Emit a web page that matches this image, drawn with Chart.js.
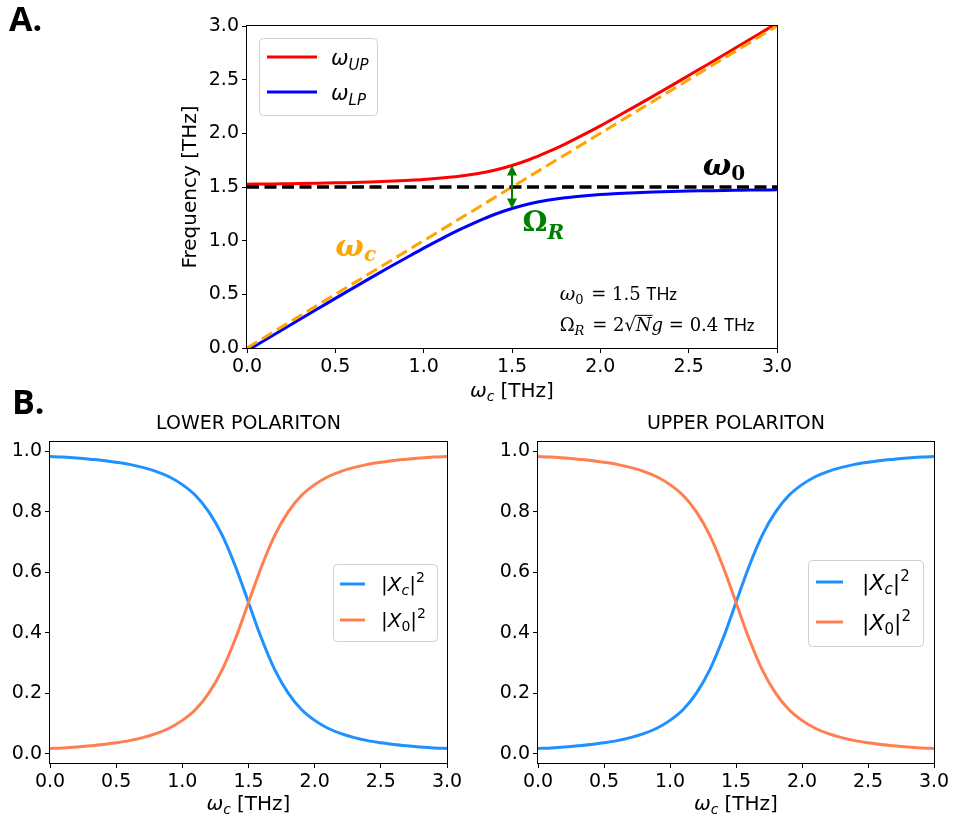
<!DOCTYPE html>
<html>
<head>
<meta charset="utf-8">
<script src="https://cdn.jsdelivr.net/npm/chart.js@4.4.1/dist/chart.umd.min.js"></script>
<style>
  body { margin: 0; background: #fff; width: 954px; height: 822px; position: relative; overflow: hidden; }
  canvas { position: absolute; }
</style>
</head>
<body>
<canvas id="dispersion" width="954" height="410" style="left:0;top:0"></canvas>
<canvas id="lower" width="477" height="437" style="left:0;top:385px"></canvas>
<canvas id="upper" width="477" height="437" style="left:477px;top:385px"></canvas>
<script>
// cavity frequency grid (THz)
const wc = [0.0, 0.1, 0.2, 0.3, 0.4, 0.5, 0.6, 0.7, 0.8, 0.9, 1.0, 1.1, 1.2, 1.3, 1.4, 1.5,
            1.6, 1.7, 1.8, 1.9, 2.0, 2.1, 2.2, 2.3, 2.4, 2.5, 2.6, 2.7, 2.8, 2.9, 3.0];

// polariton branches (THz)
const upperBranch = [1.526, 1.528, 1.530, 1.532, 1.535, 1.539, 1.542, 1.547, 1.553, 1.561, 1.570,
                     1.583, 1.600, 1.624, 1.656, 1.700, 1.756, 1.824, 1.900, 1.983, 2.070,
                     2.161, 2.253, 2.347, 2.442, 2.539, 2.635, 2.732, 2.830, 2.928, 3.026];
const lowerBranch = [-0.026, 0.072, 0.170, 0.268, 0.365, 0.462, 0.558, 0.653, 0.747, 0.839, 0.930,
                     1.017, 1.100, 1.176, 1.244, 1.300, 1.344, 1.376, 1.400, 1.417, 1.430,
                     1.439, 1.447, 1.453, 1.458, 1.462, 1.465, 1.468, 1.470, 1.472, 1.474];

// bare cavity and bare mode
const cavityX = [0, 3];
const cavityY = [0, 3];
const modeX = [0, 3];
const modeY = [1.5, 1.5];

// Hopfield weights
const lpPhoton = [0.983, 0.981, 0.978, 0.974, 0.970, 0.964, 0.957, 0.947, 0.934, 0.916, 0.890,
                  0.854, 0.800, 0.724, 0.621, 0.500, 0.379, 0.276, 0.200, 0.146, 0.110,
                  0.084, 0.066, 0.053, 0.043, 0.036, 0.030, 0.026, 0.022, 0.019, 0.017];
const lpMatter = [0.017, 0.019, 0.022, 0.026, 0.030, 0.036, 0.043, 0.053, 0.066, 0.084, 0.110,
                  0.146, 0.200, 0.276, 0.379, 0.500, 0.621, 0.724, 0.800, 0.854, 0.890,
                  0.916, 0.934, 0.947, 0.957, 0.964, 0.970, 0.974, 0.978, 0.981, 0.983];
const upPhoton = [0.017, 0.019, 0.022, 0.026, 0.030, 0.036, 0.043, 0.053, 0.066, 0.084, 0.110,
                  0.146, 0.200, 0.276, 0.379, 0.500, 0.621, 0.724, 0.800, 0.854, 0.890,
                  0.916, 0.934, 0.947, 0.957, 0.964, 0.970, 0.974, 0.978, 0.981, 0.983];
const upMatter = [0.983, 0.981, 0.978, 0.974, 0.970, 0.964, 0.957, 0.947, 0.934, 0.916, 0.890,
                  0.854, 0.800, 0.724, 0.621, 0.500, 0.379, 0.276, 0.200, 0.146, 0.110,
                  0.084, 0.066, 0.053, 0.043, 0.036, 0.030, 0.026, 0.022, 0.019, 0.017];

// Rabi splitting arrow
const rabiX = 1.5;
const rabiLow = 1.3;
const rabiHigh = 1.7;

// tick labels
const freqTicks = [0.0, 0.5, 1.0, 1.5, 2.0, 2.5, 3.0];
const weightTicks = [0.0, 0.2, 0.4, 0.6, 0.8, 1.0];

const Y_AXIS_W = 50;
const X_AXIS_H = 40;
const SANS = '"DejaVu Sans"';
const SERIF = '"DejaVu Serif"';

function toPoints(xs, ys) {
    return xs.map((x, i) => ({ x, y: ys[i] }));
}

// draw a row of text pieces (sub/superscripts via dy)
function drawRuns(ctx, x, y, runs, align = 'left') {
    let width = 0;
    runs.forEach((r) => {
        ctx.font = r.font;
        r.w = ctx.measureText(r.text).width;
        width += r.w + (r.gap || 0);
    });
    let cx = align === 'center' ? x - width / 2 : x;
    ctx.textAlign = 'left';
    ctx.textBaseline = 'alphabetic';
    runs.forEach((r) => {
        ctx.font = r.font;
        ctx.fillText(r.text, cx, y + (r.dy || 0));
        if (r.over) {
            ctx.save();
            ctx.strokeStyle = ctx.fillStyle;
            ctx.lineWidth = 1;
            ctx.beginPath();
            ctx.moveTo(cx - 1, y - r.over);
            ctx.lineTo(cx + r.w + 1, y - r.over);
            ctx.stroke();
            ctx.restore();
        }
        cx += r.w + (r.gap || 0);
    });
}

function drawLegend(ctx, box, rows, size) {
    ctx.save();
    ctx.fillStyle = 'rgba(255,255,255,0.8)';
    ctx.strokeStyle = '#d0d0d0';
    ctx.lineWidth = 1;
    ctx.beginPath();
    ctx.roundRect(box.x + 0.5, box.y + 0.5, box.w, box.h, 4);
    ctx.fill();
    ctx.stroke();
    rows.forEach((row, i) => {
        const ly = box.y + box.first + i * box.gap;
        ctx.strokeStyle = row.color;
        ctx.lineWidth = 3;
        ctx.beginPath();
        ctx.moveTo(box.x + box.lineL, ly);
        ctx.lineTo(box.x + box.lineL + box.lineW, ly);
        ctx.stroke();
        ctx.fillStyle = '#000';
        drawRuns(ctx, box.x + box.textL, ly + size * 0.36, row.runs);
    });
    ctx.restore();
}

// full axes frame, drawn above the curves
const frameBox = {
    id: 'frameBox',
    afterDatasetsDraw(chart) {
        const { ctx, chartArea: a } = chart;
        ctx.save();
        ctx.strokeStyle = '#000';
        ctx.lineWidth = 1;
        ctx.strokeRect(Math.round(a.left) - 0.5, Math.round(a.top) - 0.5,
            Math.round(a.right - a.left) + 1, Math.round(a.bottom - a.top) + 1);
        ctx.restore();
    }
};

function axisOptions(canvasId, area, yMin, yMax, yTicks) {
    const cv = document.getElementById(canvasId);
    const tickFont = { family: 'DejaVu Sans', size: 19 };
    const tickCommon = {
        autoSkip: false,
        maxRotation: 0,
        color: '#000',
        font: tickFont,
        padding: 3,
        callback: (v) => Number(v).toFixed(1)
    };
    const gridCommon = { drawOnChartArea: false, color: '#000', tickLength: 5, tickWidth: 1 };
    return {
        responsive: false,
        animation: false,
        layout: {
            padding: {
                left: area.left - Y_AXIS_W,
                top: area.top,
                right: cv.width - area.right,
                bottom: cv.height - area.bottom - X_AXIS_H
            }
        },
        plugins: { legend: { display: false }, tooltip: { enabled: false } },
        elements: {
            point: { radius: 0, hoverRadius: 0 },
            line: { cubicInterpolationMode: 'monotone', borderCapStyle: 'butt', fill: false }
        },
        scales: {
            x: {
                type: 'linear',
                min: 0,
                max: 3,
                afterFit(s) { s.height = X_AXIS_H; },
                afterBuildTicks(s) { s.ticks = freqTicks.map((v) => ({ value: v })); },
                ticks: tickCommon,
                grid: gridCommon,
                border: { display: false }
            },
            y: {
                type: 'linear',
                min: yMin,
                max: yMax,
                afterFit(s) { s.width = Y_AXIS_W; },
                afterBuildTicks(s) { s.ticks = yTicks.map((v) => ({ value: v })); },
                ticks: tickCommon,
                grid: gridCommon,
                border: { display: false }
            }
        }
    };
}

function xLabel(ctx, cx, baseline) {
    ctx.fillStyle = '#000';
    drawRuns(ctx, cx, baseline, [
        { text: 'ω', font: `italic 20px ${SANS}` },
        { text: 'c', font: `italic 14px ${SANS}`, dy: 4, gap: 6 },
        { text: '[THz]', font: `20px ${SANS}` }
    ], 'center');
}

// panel A texts, arrow and legend
const dispersionNotes = {
    id: 'dispersionNotes',
    afterDatasetsDraw(chart) {
        const { ctx, chartArea: a, scales: { x, y } } = chart;
        ctx.save();

        // Rabi arrow
        const ax = x.getPixelForValue(rabiX);
        const y0 = y.getPixelForValue(rabiLow);
        const y1 = y.getPixelForValue(rabiHigh);
        ctx.strokeStyle = '#008000';
        ctx.fillStyle = '#008000';
        ctx.lineWidth = 2;
        ctx.beginPath();
        ctx.moveTo(ax, y0 - 8);
        ctx.lineTo(ax, y1 + 8);
        ctx.stroke();
        [[y1, 1], [y0, -1]].forEach(([tipY, dir]) => {
            ctx.beginPath();
            ctx.moveTo(ax, tipY);
            ctx.lineTo(ax - 5, tipY + dir * 10);
            ctx.lineTo(ax + 5, tipY + dir * 10);
            ctx.closePath();
            ctx.fill();
        });

        // curve labels
        ctx.fillStyle = '#000';
        drawRuns(ctx, x.getPixelForValue(2.58), y.getPixelForValue(1.61), [
            { text: 'ω', font: `bold italic 30px ${SERIF}` },
            { text: '0', font: `bold 20px ${SERIF}`, dy: 5 }
        ]);
        ctx.fillStyle = '#008000';
        drawRuns(ctx, x.getPixelForValue(1.56), y.getPixelForValue(1.09), [
            { text: 'Ω', font: `bold 28px ${SERIF}` },
            { text: 'R', font: `bold italic 20px ${SERIF}`, dy: 8 }
        ]);
        ctx.fillStyle = '#ffa500';
        drawRuns(ctx, x.getPixelForValue(0.5), y.getPixelForValue(0.86), [
            { text: 'ω', font: `bold italic 30px ${SERIF}` },
            { text: 'c', font: `bold italic 20px ${SERIF}`, dy: 5 }
        ]);

        // parameter box
        ctx.fillStyle = '#000';
        const tx = x.getPixelForValue(1.77);
        drawRuns(ctx, tx, y.getPixelForValue(0.45), [
            { text: 'ω', font: `italic 19px ${SERIF}` },
            { text: '0', font: `13px ${SERIF}`, dy: 4, gap: 2 },
            { text: ' = 1.5 ', font: `18px ${SERIF}` },
            { text: 'THz', font: '17px Lato' }
        ]);
        drawRuns(ctx, tx, y.getPixelForValue(0.155), [
            { text: 'Ω', font: `18px ${SERIF}` },
            { text: 'R', font: `italic 13px ${SERIF}`, dy: 4, gap: 2 },
            { text: ' = 2', font: `18px ${SERIF}` },
            { text: '√', font: `18px ${SERIF}` },
            { text: 'N', font: `italic 18px ${SERIF}`, over: 16 },
            { text: 'g', font: `italic 18px ${SERIF}` },
            { text: ' = 0.4 ', font: `18px ${SERIF}` },
            { text: 'THz', font: '17px Lato' }
        ]);

        // axis labels
        ctx.fillStyle = '#000';
        xLabel(ctx, (a.left + a.right) / 2, a.bottom + 49);
        ctx.save();
        ctx.translate(191, (a.top + a.bottom) / 2);
        ctx.rotate(-Math.PI / 2);
        ctx.font = `20px ${SANS}`;
        ctx.textAlign = 'center';
        ctx.textBaseline = 'middle';
        ctx.fillText('Frequency [THz]', 0, 0);
        ctx.restore();

        // panel letter
        ctx.font = 'bold 34px "Open Sans"';
        ctx.textAlign = 'left';
        ctx.textBaseline = 'alphabetic';
        ctx.fillText('A.', 9, 31);

        drawLegend(ctx, { x: 259, y: 38, w: 118, h: 77, first: 19, gap: 35, lineL: 8, lineW: 50, textL: 72 }, [
            { color: '#ff0000', runs: [
                { text: 'ω', font: `italic 21px ${SANS}` },
                { text: 'UP', font: `italic 15px ${SANS}`, dy: 5 } ] },
            { color: '#0000ff', runs: [
                { text: 'ω', font: `italic 21px ${SANS}` },
                { text: 'LP', font: `italic 15px ${SANS}`, dy: 5 } ] }
        ], 21);
        ctx.restore();
    }
};

new Chart(document.getElementById('dispersion'), {
    type: 'line',
    data: {
        datasets: [
            { data: toPoints(modeX, modeY), borderColor: '#000000', borderWidth: 3.5, borderDash: [12, 5.5], order: 0, clip: 0 },
            { data: toPoints(cavityX, cavityY), borderColor: '#ffa500', borderWidth: 3, borderDash: [12, 5.5], order: 1, clip: 0 },
            { data: toPoints(wc, lowerBranch), borderColor: '#0000ff', borderWidth: 3, order: 2, clip: 0 },
            { data: toPoints(wc, upperBranch), borderColor: '#ff0000', borderWidth: 3, order: 3, clip: 0 }
        ]
    },
    options: axisOptions('dispersion', { left: 247, top: 26, right: 777, bottom: 348 }, 0, 3, freqTicks),
    plugins: [frameBox, dispersionNotes]
});

function weightLegendRows(size) {
    const sub = Math.round(size * 0.7);
    const rows = (idx) => [
        { text: '|', font: `${size}px ${SANS}` },
        { text: 'X', font: `italic ${size}px ${SANS}` },
        { text: idx, font: `${idx === 'c' ? 'italic ' : ''}${sub}px ${SANS}`, dy: 4 },
        { text: '|', font: `${size}px ${SANS}` },
        { text: '2', font: `${sub}px ${SANS}`, dy: -9 }
    ];
    return [
        { color: '#1e90ff', runs: rows('c') },
        { color: '#ff7f50', runs: rows('0') }
    ];
}

function weightPanel(canvasId, title, photon, matter, left, right, legendBox, legendSize, letter) {
    const area = { left, top: 57, right, bottom: 378 };
    const notes = {
        id: 'weightNotes',
        afterDatasetsDraw(chart) {
            const { ctx, chartArea: a } = chart;
            ctx.save();
            ctx.fillStyle = '#000';
            ctx.font = `19px ${SANS}`;
            ctx.textAlign = 'center';
            ctx.textBaseline = 'alphabetic';
            ctx.fillText(title, (a.left + a.right) / 2, 44);
            xLabel(ctx, (a.left + a.right) / 2, a.bottom + 47);
            if (letter) {
                ctx.font = 'bold 34px "Open Sans"';
                ctx.textAlign = 'left';
                ctx.fillText(letter, 12, 29);
            }
            drawLegend(ctx, legendBox, weightLegendRows(legendSize), legendSize);
            ctx.restore();
        }
    };
    new Chart(document.getElementById(canvasId), {
        type: 'line',
        data: {
            datasets: [
                { data: toPoints(wc, photon), borderColor: '#1e90ff', borderWidth: 3, order: 1 },
                { data: toPoints(wc, matter), borderColor: '#ff7f50', borderWidth: 3, order: 0 }
            ]
        },
        options: axisOptions(canvasId, area, -0.031, 1.031, weightTicks),
        plugins: [frameBox, notes]
    });
}

weightPanel('lower', 'LOWER POLARITON', lpPhoton, lpMatter, 50, 447,
    { x: 333, y: 179, w: 104, h: 77, first: 20, gap: 36, lineL: 7, lineW: 25, textL: 48 }, 20, 'B.');
weightPanel('upper', 'UPPER POLARITON', upPhoton, upMatter, 61, 457,
    { x: 331, y: 175, w: 115, h: 86, first: 22, gap: 40, lineL: 8, lineW: 27, textL: 54 }, 22, null);
</script>
</body>
</html>
